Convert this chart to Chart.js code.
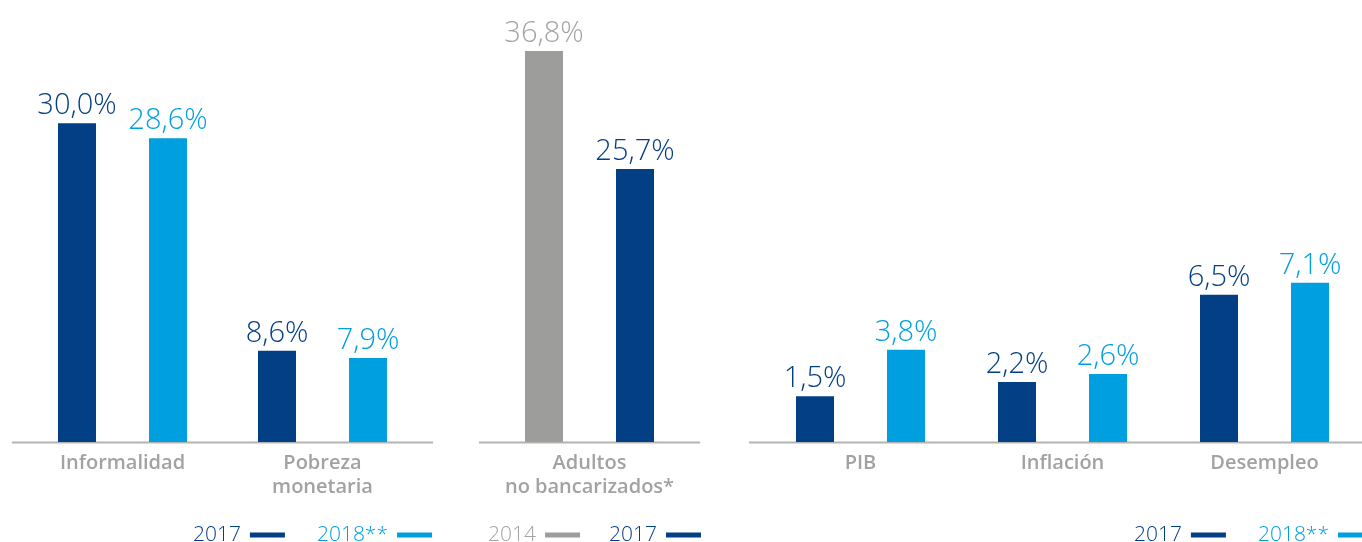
<!DOCTYPE html>
<html>
<head>
<meta charset="utf-8">
<script src="https://cdn.jsdelivr.net/npm/chart.js@4.4.1/dist/chart.umd.min.js"></script>
<style>
  html, body { margin: 0; padding: 0; background: #ffffff; overflow: hidden; }
  #wrap { position: relative; width: 1362px; height: 542px; overflow: hidden; }
  canvas { position: absolute; top: 0; }
</style>
</head>
<body>
<div id="wrap">
  <canvas id="c1" width="460" height="542" style="left:0px;width:460px;height:542px"></canvas>
  <canvas id="c2" width="280" height="542" style="left:460px;width:280px;height:542px"></canvas>
  <canvas id="c3" width="640" height="542" style="left:740px;width:640px;height:542px"></canvas>
</div>
<script>
// ---- data ----
const categoriesLeft = ['Informalidad', ['Pobreza', 'monetaria']];
const left2017 = [30.0, 8.6];
const left2018 = [28.6, 7.9];

const categoriesMid = [['Adultos', 'no bancarizados*']];
const mid2014 = [36.8];
const mid2017 = [25.7];

const categoriesRight = ['PIB', 'Inflación', 'Desempleo'];
const right2017 = [1.5, 2.2, 6.5];
const right2018 = [3.8, 2.6, 7.1];

const seriesLabels = { y2014: '2014', y2017: '2017', y2018: '2018**' };

// ---- styles ----
const DARK = '#033F85';
const LIGHT = '#009FDF';
const GREY = '#9D9D9C';
const AXIS = '#B4B4B4';
const CAT = '#A2A2A2';

const fmt = v => v.toFixed(1).replace('.', ',') + '%';

const valueLabels = {
  id: 'valueLabels',
  afterDatasetsDraw(chart) {
    const ctx = chart.ctx;
    ctx.save();
    ctx.font = '300 29px "Open Sans"';
    ctx.textAlign = 'center';
    ctx.textBaseline = 'alphabetic';
    chart.data.datasets.forEach((ds, i) => {
      const meta = chart.getDatasetMeta(i);
      ctx.fillStyle = ds.labelColor || ds.backgroundColor;
      meta.data.forEach((el, j) => {
        ctx.fillText(fmt(ds.data[j]), el.x, el.y - 9);
      });
    });
    ctx.restore();
  }
};

const baseline = {
  id: 'baseline',
  beforeDatasetsDraw(chart) {
    const a = chart.chartArea, ctx = chart.ctx;
    const ext = 10.5;
    ctx.save();
    ctx.strokeStyle = AXIS;
    ctx.lineWidth = 2;
    ctx.beginPath();
    ctx.moveTo(a.left - ext, a.bottom + 0.5);
    ctx.lineTo(a.right + ext, a.bottom + 0.5);
    ctx.stroke();
    ctx.restore();
  }
};

const sideLegend = {
  id: 'sideLegend',
  afterDraw(chart, args, opts) {
    const ctx = chart.ctx;
    ctx.save();
    ctx.font = '300 21px "Open Sans"';
    ctx.textBaseline = 'alphabetic';
    ctx.textAlign = 'right';
    let x = opts.right;
    const dss = chart.data.datasets.slice().reverse();
    dss.forEach(ds => {
      const col = ds.labelColor || ds.backgroundColor;
      ctx.fillStyle = ds.backgroundColor;
      ctx.fillRect(x - 35, 532.5, 35, 5);
      ctx.fillStyle = col;
      ctx.fillText(ds.label, x - 44, 541);
      const w = ctx.measureText(ds.label).width;
      x = x - 44 - w - opts.gap;
    });
    ctx.restore();
  }
};

function makeChart(id, cats, datasets, pad, yMin, yMax, catPct, legendRight, legendGap) {
  return new Chart(document.getElementById(id), {
    type: 'bar',
    data: {
      labels: cats,
      datasets: datasets.map(d => Object.assign({
        categoryPercentage: catPct,
        barPercentage: 38 / 91,
        base: yMin,
        borderWidth: 0
      }, d))
    },
    options: {
      responsive: false,
      animation: false,
      devicePixelRatio: 1,
      layout: { padding: pad },
      plugins: {
        legend: { display: false },
        tooltip: { enabled: false },
        sideLegend: { right: legendRight, gap: legendGap }
      },
      scales: {
        x: {
          grid: { display: false, drawTicks: false },
          border: { display: false },
          ticks: {
            color: CAT,
            font: { family: '"Open Sans"', size: 20, weight: '600', lineHeight: 1.2 },
            padding: 9,
            maxRotation: 0,
            autoSkip: false
          },
          afterFit: s => { s.height = 60; }
        },
        y: { display: false, min: yMin, max: yMax }
      }
    },
    plugins: [baseline, valueLabels, sideLegend]
  });
}

makeChart('c1', categoriesLeft, [
  { label: seriesLabels.y2017, data: left2017, backgroundColor: DARK },
  { label: seriesLabels.y2018, data: left2018, backgroundColor: LIGHT }
], { left: 22.5, right: 37.5, top: 17, bottom: 40 }, 0, 40, 0.91, 432, 32);

makeChart('c2', categoriesMid, [
  { label: seriesLabels.y2014, data: mid2014, backgroundColor: GREY, labelColor: '#A3A3A3' },
  { label: seriesLabels.y2017, data: mid2017, backgroundColor: DARK }
], { left: 29.5, right: 50.5, top: 17, bottom: 40 }, 0, 40, 0.91, 241, 29);

makeChart('c3', categoriesRight, [
  { label: seriesLabels.y2017, data: right2017, backgroundColor: DARK },
  { label: seriesLabels.y2018, data: right2018, backgroundColor: LIGHT }
], { left: 19.5, right: 14.5, top: 264.4, bottom: 40 }, -0.75, 8, 0.901, 633, 32);
</script>
</body>
</html>
